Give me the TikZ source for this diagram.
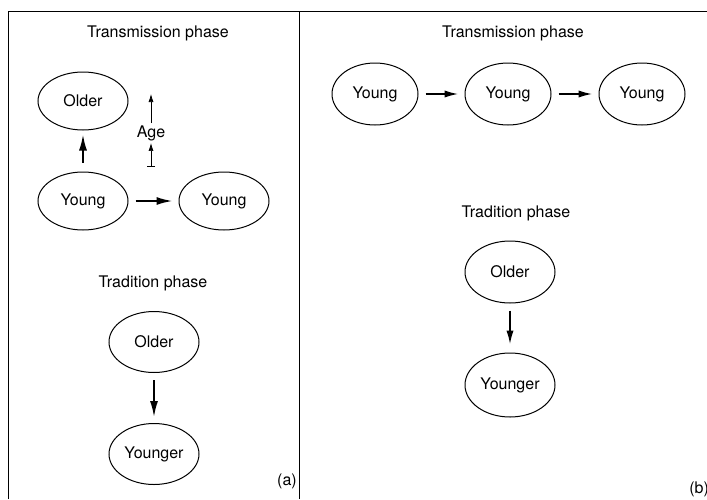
\documentclass[tikz,border=0pt]{standalone}
\usepackage{fontspec}
\setmainfont{TeX Gyre Heros}
\usetikzlibrary{shapes.geometric,arrows.meta}

\begin{document}
\begin{tikzpicture}[x=0.5pt, y=-0.5pt, font=\fontsize{8}{9.6}\selectfont]
        \tikzstyle{every node}=[inner sep=1pt]
        \tikzstyle{group}=[ellipse, draw, line width=0.5pt, minimum width=45pt, minimum height=29pt]
        \tikzstyle{link}=[-{Latex[length=8pt,width=4pt]}, line width=0.9pt, shorten <=3.5pt, shorten >=3pt]
        \tikzstyle{ageaxis}=[line width=0.35pt]
        \useasboundingbox (0,0) rectangle (707,499);
        \draw[line width=0.5pt] (8,499) -- (8,11) -- (707,11);
        \draw[line width=0.5pt] (299,11) -- (299,499);
        % panel (a)
        \node (transA) at (158,33) {Transmission phase};
        \node[group] (olderA) at (83,101) {Older};
        \node[group] (youngA) at (83,201) {Young};
        \node[group] (youngB) at (224,201) {Young};
        \draw[link, shorten <=4.5pt, shorten >=2pt] (youngA) -- (olderA);
        \draw[link] (youngA) -- (youngB);
        \node (age) at (151,133) {Age};
        \coordinate (agebase) at (151,167);
        \coordinate (agetop) at (151,94);
        \draw[ageaxis, {Bar[width=4pt]}-{Latex[length=4pt,width=2.5pt]}] (agebase) -- (age.south);
        \draw[ageaxis, -{Latex[length=4pt,width=2.5pt]}] (age.north) -- (agetop);
        \node (tradA) at (153,283) {Tradition phase};
        \node[group, minimum height=30.5pt] (olderT) at (154,342) {Older};
        \node[group, minimum height=30.5pt] (youngerT) at (154,454) {Younger};
        \draw[link] (olderT) -- (youngerT);
        \node (labA) at (287,481) {(a)};
        % panel (b)
        \node (transB) at (513,33) {Transmission phase};
        \node[group, minimum width=43pt, minimum height=31pt] (young1) at (375,94) {Young};
        \node[group, minimum width=43pt, minimum height=31pt] (young2) at (508,94) {Young};
        \node[group, minimum width=43pt, minimum height=31pt] (young3) at (642,94) {Young};
        \draw[link, -{Latex[length=7pt,width=3.6pt]}] (young1) -- (young2);
        \draw[link, -{Latex[length=7pt,width=3.6pt]}] (young2) -- (young3);
        \node (tradB) at (516,213) {Tradition phase};
        \node[group, minimum height=31pt] (olderB) at (510,272) {Older};
        \node[group, minimum height=32pt] (youngerB) at (510,385) {Younger};
        \draw[link, -{Latex[length=7pt,width=3.6pt]}, shorten >=4pt] (olderB) -- (youngerB);
        \node[anchor=west] (labB) at (687,489) {(b)};
\end{tikzpicture}
\end{document}
